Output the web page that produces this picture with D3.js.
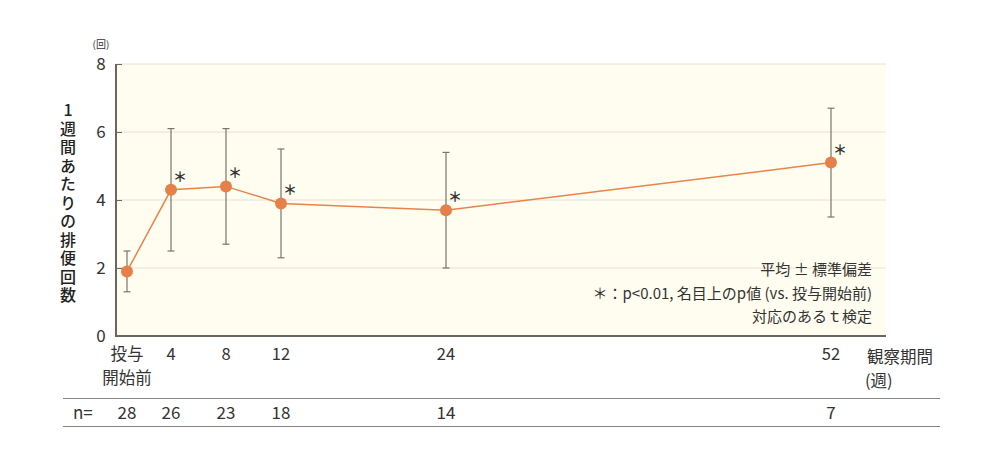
<!DOCTYPE html>
<html><head><meta charset="utf-8">
<script src="https://cdn.jsdelivr.net/npm/d3@7"></script>
<style>
body{margin:0;background:#fff;}
svg{font-family:"Noto Sans CJK JP","Noto Sans",sans-serif;}
</style></head>
<body><svg id="c" width="1000" height="470"></svg>
<script>
// Data
const categories = ["投与\n開始前","4","8","12","24","52"];
const weekPos = [0.8, 4, 8, 12, 24, 52];   // horizontal position (weeks)
const means = [1.9, 4.3, 4.4, 3.9, 3.7, 5.1];
const sdLow = [1.3, 2.5, 2.7, 2.3, 2.0, 3.5];
const sdHigh = [2.5, 6.1, 6.1, 5.5, 5.4, 6.7];
const significant = [false, true, true, true, true, true];
const nValues = [28, 26, 23, 18, 14, 7];
const yTicks = [0, 2, 4, 6, 8];
const legendLines = ["平均 ± 標準偏差", "＊：p<0.01, 名目上のp値 (vs. 投与開始前)", "対応のあるｔ検定"];

const svg = d3.select("#c");
const L = 116, R = 886, T = 64, B = 336;
const x = d3.scaleLinear().domain([0, 56]).range([L, R]);
const y = d3.scaleLinear().domain([0, 8]).range([B, T]);

// background
svg.append("rect").attr("x", L).attr("y", T).attr("width", R - L).attr("height", B - T).attr("fill", "#fffdf0");

// grid
svg.append("g").selectAll("line").data(yTicks.filter(d => d > 0)).join("line")
  .attr("x1", L).attr("x2", R).attr("y1", d => y(d)).attr("y2", d => y(d))
  .attr("stroke", "#e6e2d2").attr("stroke-width", 1);

// y axis
const yAxis = d3.axisRight(y).tickValues(yTicks).tickSize(6).tickFormat("");
const gy = svg.append("g").attr("transform", `translate(${L},0)`).call(yAxis);
gy.select(".domain").remove();
gy.selectAll(".tick line").attr("stroke", "#6b6560");
svg.append("line").attr("x1", L).attr("x2", L).attr("y1", T).attr("y2", B + 1).attr("stroke", "#6b6560").attr("stroke-width", 2);
svg.append("line").attr("x1", L - 1).attr("x2", R).attr("y1", B).attr("y2", B).attr("stroke", "#6b6560").attr("stroke-width", 2);

svg.append("g").selectAll("text").data(yTicks).join("text")
  .attr("x", 101).attr("y", d => y(d) + 6).attr("text-anchor", "middle")
  .attr("font-size", 17).attr("fill", "#333").text(d => d);

svg.append("text").attr("x", 101).attr("y", 48).attr("text-anchor", "middle")
  .attr("font-size", 10).attr("fill", "#333").text("(回)");

// y title vertical
svg.append("text").attr("x", 68).attr("y", 102)
  .attr("font-size", 16).attr("font-weight", 500).attr("fill", "#222")
  .attr("writing-mode", "vertical-rl")
  .style("text-orientation", "upright")
  .style("letter-spacing", "2.5px")
  .text("1週間あたりの排便回数");

// line
svg.append("path").datum(d3.range(means.length))
  .attr("d", d3.line().x(i => x(weekPos[i])).y(i => y(means[i])))
  .attr("fill", "none").attr("stroke", "#e8834a").attr("stroke-width", 1.5);

// error bars
const eb = svg.append("g").attr("stroke", "#7a7570").attr("stroke-width", 1.2);
d3.range(means.length).forEach(i => {
  const cx = x(weekPos[i]);
  eb.append("line").attr("x1", cx).attr("x2", cx).attr("y1", y(sdLow[i])).attr("y2", y(sdHigh[i]));
  eb.append("line").attr("x1", cx - 3.5).attr("x2", cx + 3.5).attr("y1", y(sdLow[i])).attr("y2", y(sdLow[i]));
  eb.append("line").attr("x1", cx - 3.5).attr("x2", cx + 3.5).attr("y1", y(sdHigh[i])).attr("y2", y(sdHigh[i]));
});

// points
svg.append("g").selectAll("circle").data(d3.range(means.length)).join("circle")
  .attr("cx", i => x(weekPos[i])).attr("cy", i => y(means[i])).attr("r", 6)
  .attr("fill", "#e5804a");

// asterisks
svg.append("g").selectAll("text").data(d3.range(means.length).filter(i => significant[i])).join("text")
  .attr("x", i => x(weekPos[i]) + 2).attr("y", i => y(means[i]) - 8)
  .attr("font-size", 14).attr("font-weight", 700).attr("fill", "#333").text("＊");

// legend
svg.append("g").selectAll("text").data(legendLines).join("text")
  .attr("x", 872).attr("y", (d, i) => 275 + i * 23.5).attr("text-anchor", "end")
  .attr("font-size", 15).attr("fill", "#333").text(d => d);

// x labels
const xl = svg.append("g").attr("font-size", 16.5).attr("fill", "#333").attr("text-anchor", "middle");
categories.forEach((c, i) => {
  c.split("\n").forEach((s, j) => xl.append("text").attr("x", x(weekPos[i])).attr("y", 360 + j * 24).text(s));
});
const xt = svg.append("g").attr("font-size", 16.5).attr("fill", "#333");
xt.append("text").attr("x", 867).attr("y", 363).text("観察期間");
xt.append("text").attr("x", 865).attr("y", 387).text("(週)");

// n table
svg.append("line").attr("x1", 63).attr("x2", 940).attr("y1", 398.5).attr("y2", 398.5).attr("stroke", "#8a8580").attr("stroke-width", 1);
svg.append("line").attr("x1", 63).attr("x2", 940).attr("y1", 426.5).attr("y2", 426.5).attr("stroke", "#8a8580").attr("stroke-width", 1);
svg.append("text").attr("x", 73).attr("y", 419).attr("font-size", 17).attr("fill", "#333").text("n=");
svg.append("g").selectAll("text").data(nValues).join("text")
  .attr("x", (d, i) => x(weekPos[i])).attr("y", 419).attr("text-anchor", "middle")
  .attr("font-size", 17).attr("fill", "#333").text(d => d);
</script></body></html>
